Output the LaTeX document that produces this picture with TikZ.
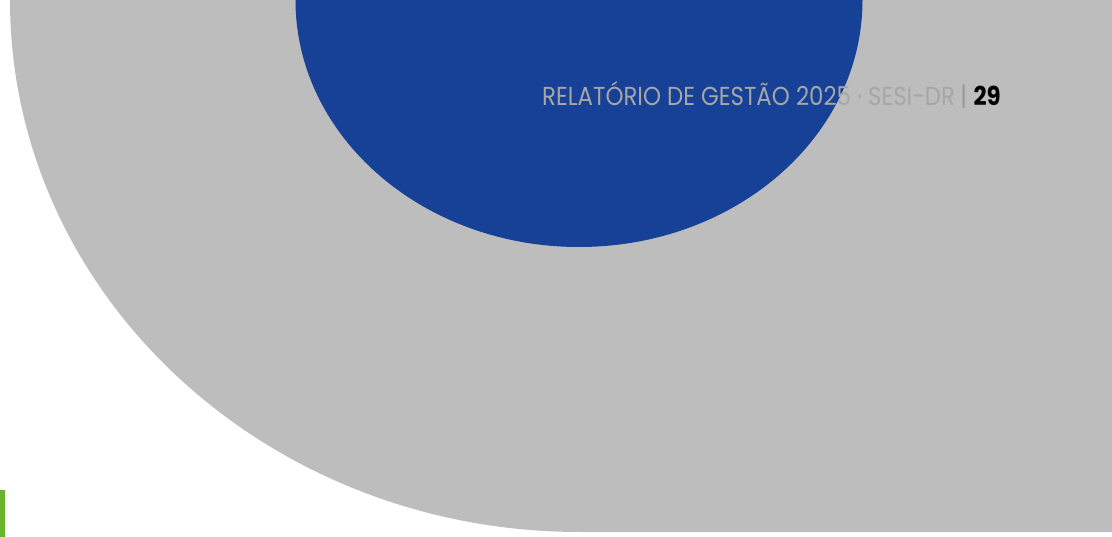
\documentclass[tikz,border=0pt]{standalone}
\usepackage{fontspec}
\setmainfont{Poppins}
\newfontfamily\headfont[FakeStretch=0.88]{Poppins}
\usetikzlibrary{positioning}
\definecolor{pagegrey}{HTML}{BDBDBD}
\definecolor{discblue}{HTML}{174097}
\definecolor{headgrey}{HTML}{A6A6A6}
\definecolor{bargrey}{HTML}{999999}
\definecolor{markgreen}{HTML}{6AB42D}
\begin{document}
\begin{tikzpicture}[x=1pt,y=-1pt,
    headtxt/.style={inner sep=0pt,text=headgrey,font=\headfont\fontsize{26}{26}\selectfont},
    pagetxt/.style={inner sep=0pt,text=black,font=\headfont\bfseries\fontsize{26}{26}\selectfont}]
        \useasboundingbox (0,0) rectangle (1112,537);
        \clip (0,0) rectangle (1112,537);
        % grey backdrop with its rounded lower left side
        \fill[pagegrey] (10,0) arc[start angle=180,end angle=90,x radius=570,y radius=532] -- (1112,532) -- (1112,0) -- cycle;
        \fill[discblue] (579,0) ellipse[x radius=283.5,y radius=247];
        \fill[markgreen] (0,490) rectangle (5,537);
        % running head
        \node[headtxt,anchor=base west] (title) at (542,106) {RELATÓRIO DE GESTÃO 2025 · SESI-DR};
        \node[headtxt,right=5pt of title.base east,anchor=base west,text=bargrey] (bar) {|};
        \node[pagetxt,right=6pt of bar.base east,anchor=base west] (page) {29};
\end{tikzpicture}
\end{document}
